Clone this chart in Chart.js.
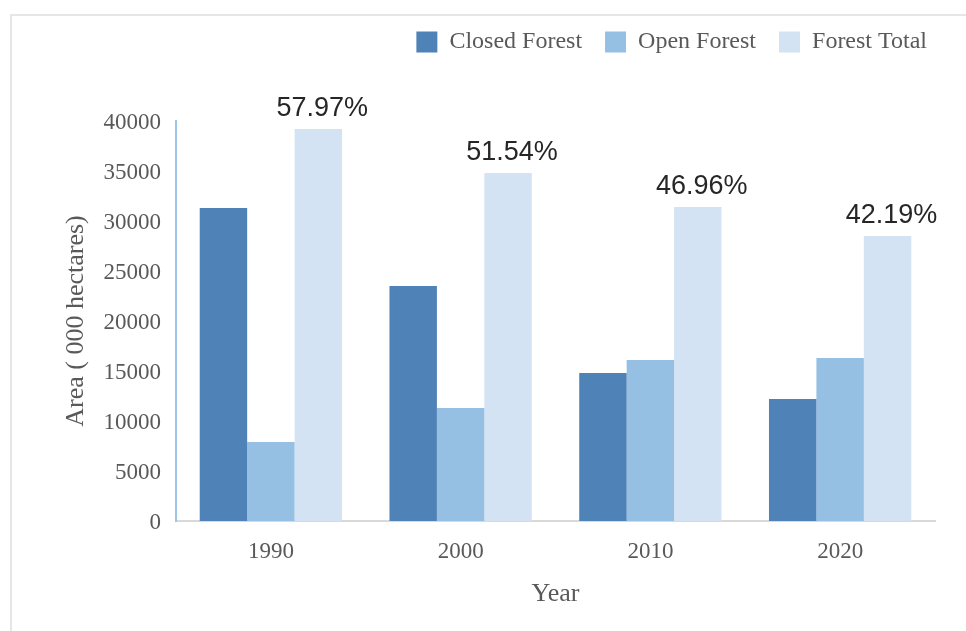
<!DOCTYPE html>
<html>
<head>
<meta charset="utf-8">
<script src="https://cdn.jsdelivr.net/npm/chart.js@4.4.1/dist/chart.umd.min.js"></script>
<style>
    html, body { margin: 0; padding: 0; background: #fff; }
    #wrap { position: relative; width: 966px; height: 631px; overflow: hidden; }
    #frame { position: absolute; left: 10px; top: 14px; right: 0; bottom: 0;
             border-left: 2px solid #e6e6e6; border-top: 2px solid #e6e6e6; }
    #chartForest { position: absolute; left: 0; top: 0; }
</style>
</head>
<body>
<div id="wrap">
    <div id="frame"></div>
    <canvas id="chartForest" width="966" height="631"></canvas>
</div>
<script>
// ===========================
// DATA
// ===========================
const years = ["1990", "2000", "2010", "2020"];
const closedForest = [31300, 23500, 14800, 12200];
const openForest = [7900, 11300, 16100, 16300];
const forestTotal = [39200, 34800, 31400, 28500];
const totalShare = ["57.97%", "51.54%", "46.96%", "42.19%"];
const yTicks = [0, 5000, 10000, 15000, 20000, 25000, 30000, 35000, 40000];

const serif = "'Liberation Serif', 'Times New Roman', serif";
const grey = "#595959";

// ===========================
// PLUGINS
// ===========================

// legend takes the whole band above the plot; nudge it to the right/down
const legendBand = {
    id: "legendBand",
    beforeInit(chart) {
        const fit = chart.legend.fit;
        chart.legend.fit = function () {
            fit.call(this);
            this.height = 121;
        };
    },
    afterLayout(chart) {
        const lg = chart.legend;
        lg.left += 15;
        lg.right += 15;
        lg.top += 7;
        lg.bottom += 7;
    }
};

// percentage labels over the Forest Total bars
const shareLabels = {
    id: "shareLabels",
    afterDatasetsDraw(chart) {
        const ctx = chart.ctx;
        const meta = chart.getDatasetMeta(2);
        ctx.save();
        ctx.font = "27px 'Liberation Sans', Arial, sans-serif";
        ctx.fillStyle = "#262626";
        ctx.textAlign = "center";
        ctx.textBaseline = "alphabetic";
        meta.data.forEach((bar, i) => {
            ctx.fillText(totalShare[i], bar.x + 4, bar.y - 13);
        });
        ctx.restore();
    }
};

// ===========================
// CHART
// ===========================
const ctx = document.getElementById("chartForest").getContext("2d");

new Chart(ctx, {
    type: "bar",
    data: {
        labels: years,
        datasets: [
            { label: "Closed Forest", data: closedForest, backgroundColor: "#4F82B6" },
            { label: "Open Forest", data: openForest, backgroundColor: "#96BFE4" },
            { label: "Forest Total", data: forestTotal, backgroundColor: "#D3E3F3" }
        ]
    },
    options: {
        responsive: false,
        animation: false,
        devicePixelRatio: 1,
        layout: { padding: { left: 0, right: 31, top: 0, bottom: 0 } },
        datasets: {
            bar: { categoryPercentage: 0.75, barPercentage: 1.0 }
        },
        plugins: {
            tooltip: { enabled: false },
            legend: {
                position: "top",
                align: "end",
                labels: {
                    boxWidth: 21,
                    boxHeight: 21,
                    padding: 23,
                    color: grey,
                    font: { family: serif, size: 24 }
                }
            }
        },
        scales: {
            x: {
                grid: { display: false, drawTicks: false },
                border: { display: true, color: "#D9D9D9", width: 2 },
                ticks: { color: grey, padding: 17, font: { family: serif, size: 23 } },
                title: {
                    display: true,
                    text: "Year",
                    color: grey,
                    padding: { top: 21, bottom: 21 },
                    font: { family: serif, size: 26 }
                },
                afterFit(scale) { scale.height = 110; }
            },
            y: {
                min: 0,
                max: 40000,
                grid: { display: false, drawTicks: false },
                border: { display: true, color: "#9DC3E6", width: 2 },
                afterBuildTicks(scale) { scale.ticks = yTicks.map(v => ({ value: v })); },
                ticks: {
                    color: grey,
                    padding: 15,
                    labelOffset: 2,
                    font: { family: serif, size: 23 },
                    callback: (v) => String(v)
                },
                title: {
                    display: true,
                    text: "Area ( 000 hectares)",
                    color: grey,
                    padding: { top: 61, bottom: 0 },
                    font: { family: serif, size: 26 }
                },
                afterFit(scale) { scale.width = 176; }
            }
        }
    },
    plugins: [legendBand, shareLabels]
});
</script>
</body>
</html>
